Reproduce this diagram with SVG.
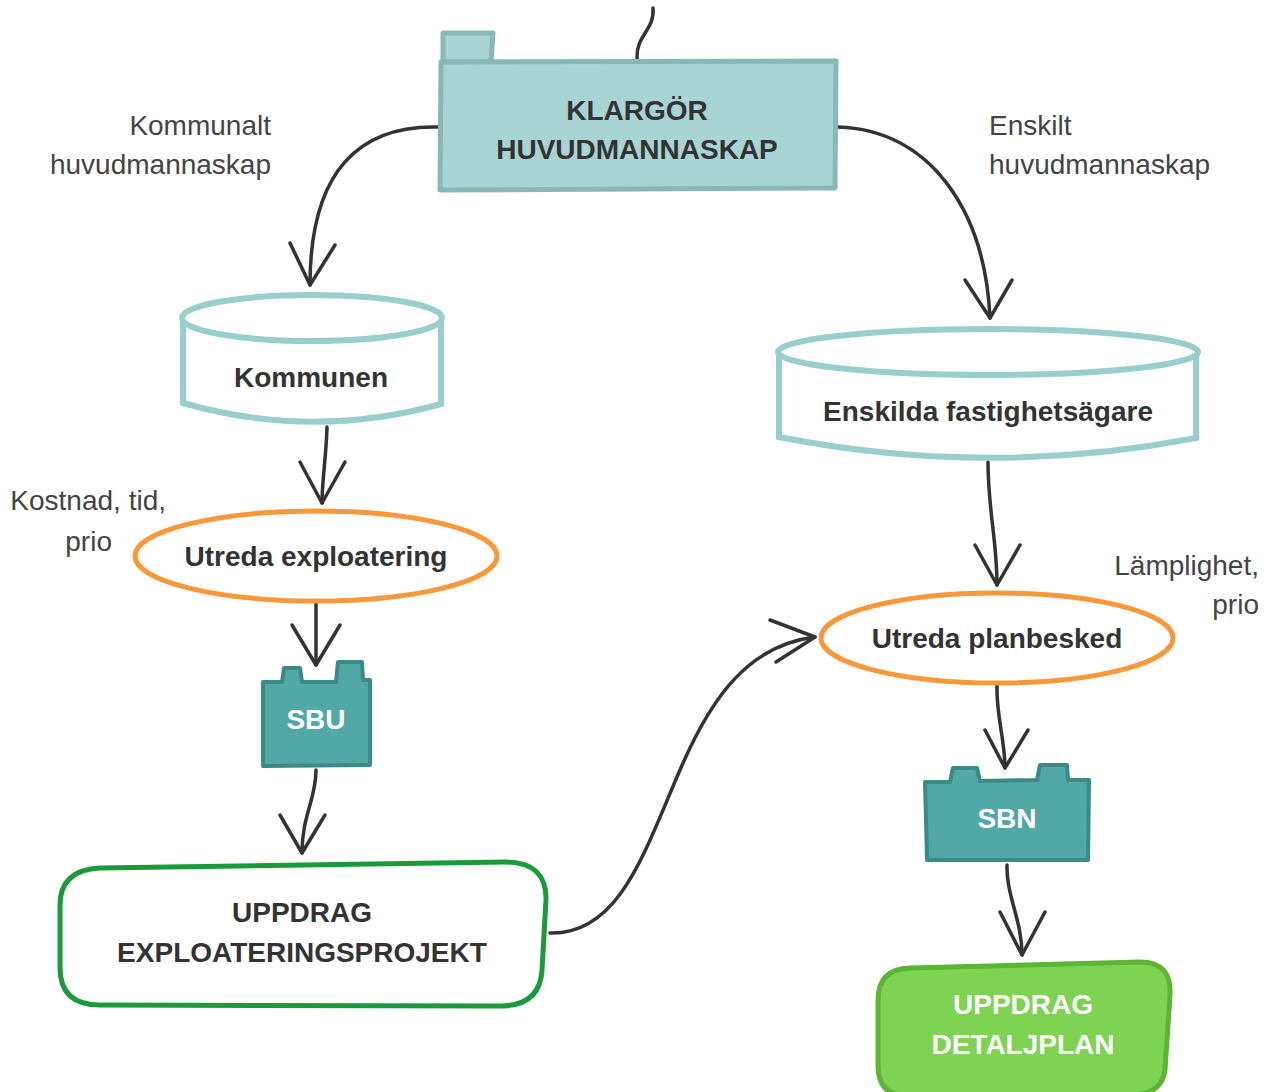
<svg xmlns="http://www.w3.org/2000/svg" width="1273" height="1092" viewBox="0 0 1273 1092">
<style>
.t{font-family:"Liberation Sans",Arial,sans-serif;font-weight:bold;font-size:28px;fill:#333;text-anchor:middle}
.w{fill:#fff}
.lbl{font-family:"Liberation Sans",Arial,sans-serif;font-size:28px;fill:#444}
.c{fill:none;stroke:#333;stroke-width:3.5;stroke-linecap:round;stroke-linejoin:round}
.cyl{fill:#fff;stroke:#98cecc;stroke-width:6}
.ell{fill:#fff;stroke:#f7993a;stroke-width:5}
.sb{fill:#52a8a6;stroke:#3a8a86;stroke-width:4;stroke-linejoin:round}
</style>
<rect width="1273" height="1092" fill="#fff"/>
<g id="connectors">
<path class="c" d="M653,8 C655,30 636,35 637,58"/>
<path class="c" d="M438,127 C360,125 310,170 310,285"/>
<path class="c" d="M290,243 L310,285 L335,245"/>
<path class="c" d="M838,127 C930,130 985,210 990,318"/>
<path class="c" d="M965,280 L990,318 L1012,280"/>
<path class="c" d="M327,427 C326,460 322,480 322,503"/>
<path class="c" d="M300,462 L322,503 L345,462"/>
<path class="c" d="M316,603 L316,665"/>
<path class="c" d="M292,625 L316,665 L340,625"/>
<path class="c" d="M316,770 C316,800 302,815 302,853"/>
<path class="c" d="M280,815 L302,853 L325,815"/>
<path class="c" d="M988,462 C988,510 997,540 997,585"/>
<path class="c" d="M975,545 L997,585 L1020,545"/>
<path class="c" d="M550,933 C620,935 645,850 680,770 C712,695 750,645 815,637"/>
<path class="c" d="M770,620 L815,637 L776,662"/>
<path class="c" d="M997,685 C996,715 1005,740 1005,768"/>
<path class="c" d="M985,730 L1005,768 L1028,730"/>
<path class="c" d="M1007,865 C1006,895 1022,920 1022,955"/>
<path class="c" d="M1000,912 L1022,955 L1045,912"/>
</g>
<g id="klargor">
<path d="M443,33 L493,33 L491,62 L443,62 Z" fill="#a8d5d3" stroke="#88b8b6" stroke-width="5" stroke-linejoin="round"/>
<path d="M441,62 L836,61 L835,188 L440,190 Z" fill="#a8d5d3" stroke="#88b8b6" stroke-width="5" stroke-linejoin="round"/>
<text class="t" x="637" y="120">KLARGÖR</text>
<text class="t" x="637" y="159">HUVUDMANNASKAP</text>
</g>
<g id="kommunen">
<path class="cyl" d="M183,318 L183,403 Q312,440 441,404 L441,320"/>
<ellipse class="cyl" cx="312" cy="318" rx="130" ry="23"/>
<text class="t" x="311" y="387">Kommunen</text>
</g>
<g id="enskilda">
<path class="cyl" d="M779,352 L779,437 Q988,478 1196,438 L1196,354"/>
<ellipse class="cyl" cx="988" cy="352" rx="210" ry="23"/>
<text class="t" x="988" y="421">Enskilda fastighetsägare</text>
</g>
<g id="utreda-exploatering">
<ellipse class="ell" cx="316" cy="556" rx="181" ry="45"/>
<text class="t" x="316" y="566">Utreda exploatering</text>
</g>
<g id="utreda-planbesked">
<ellipse class="ell" cx="997" cy="638" rx="176" ry="45"/>
<text class="t" x="997" y="648">Utreda planbesked</text>
</g>
<g id="sbu">
<path class="sb" d="M263,682 L282,682 L284,668 L300,668 L302,682 L336,682 L338,662 L362,662 L363,680 L370,680 L370,765 L263,766 Z"/>
<text class="t w" x="316" y="729">SBU</text>
</g>
<g id="sbn">
<path class="sb" d="M925,782 L950,782 L953,768 L977,768 L980,781 L1037,780 L1040,765 L1067,765 L1068,780 L1089,780 L1088,860 L927,860 Z"/>
<text class="t w" x="1007" y="828">SBN</text>
</g>
<g id="uppdrag-exploateringsprojekt">
<path d="M100,868 L505,862 Q547,862 546,900 L542,970 Q540,1006 500,1006 L100,1005 Q60,1005 60,968 L60,905 Q60,870 100,868 Z" fill="#fff" stroke="#1a9a3a" stroke-width="5"/>
<text class="t" x="302" y="922">UPPDRAG</text>
<text class="t" x="302" y="962">EXPLOATERINGSPROJEKT</text>
</g>
<g id="uppdrag-detaljplan">
<path d="M910,968 L1140,962 Q1172,962 1170,995 L1165,1070 Q1162,1095 1130,1095 L905,1095 Q878,1095 878,1065 L878,1000 Q878,969 910,968 Z" fill="#7ed353" stroke="#5cb535" stroke-width="5"/>
<text class="t w" x="1023" y="1014">UPPDRAG</text>
<text class="t w" x="1023" y="1054">DETALJPLAN</text>
</g>
<g id="labels">
<text class="lbl" x="271" y="135" text-anchor="end">Kommunalt</text>
<text class="lbl" x="271" y="174" text-anchor="end">huvudmannaskap</text>
<text class="lbl" x="989" y="135">Enskilt</text>
<text class="lbl" x="989" y="174">huvudmannaskap</text>
<text class="lbl" x="166" y="510" text-anchor="end">Kostnad, tid,</text>
<text class="lbl" x="112" y="551" text-anchor="end">prio</text>
<text class="lbl" x="1259" y="575" text-anchor="end">Lämplighet,</text>
<text class="lbl" x="1259" y="614" text-anchor="end">prio</text>
</g>
</svg>
